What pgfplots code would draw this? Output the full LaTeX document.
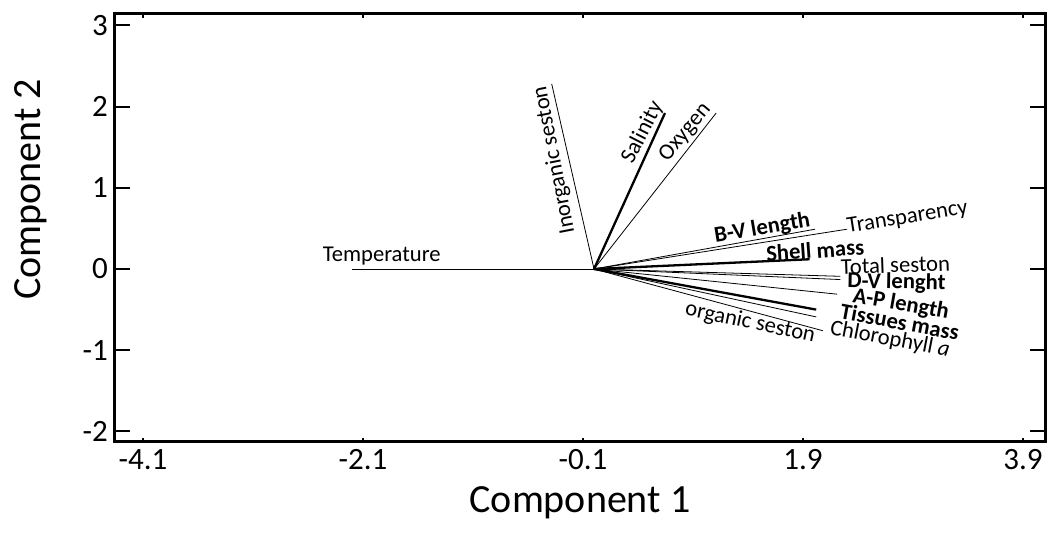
\documentclass[border=0pt]{standalone}
\usepackage{fontspec}
\setmainfont{Carlito}
\usepackage{pgfplots}
\pgfplotsset{compat=1.18}
\begin{document}
\begin{tikzpicture}
\begin{axis}[
  scale only axis, width=465pt, height=214pt,
  xmin=-4.355, xmax=4.10, ymin=-2.13, ymax=3.14,
  clip=false,
  axis line style={line width=1.5pt, black},
  xtick={-4.1,-2.1,-0.1,1.9,3.9},
  xticklabels={-4.1,-2.1,-0.1,1.9,3.9},
  ytick={-2,-1,0,1,2,3},
  yticklabels={-2,-1,0,1,2,3},
  tick align=inside,
  major tick length=7.5pt,
  xtick style={/pgfplots/major tick length=2pt},
  tick style={line width=1pt, black},
  ticklabel style={font=\fontsize{15.5}{18}\selectfont},
  xlabel={Component 1},
  ylabel={Component 2},
  label style={font=\fontsize{20}{24}\selectfont},
  xlabel style={at={(axis description cs:0.5,0)}, anchor=base, yshift=-35.5pt},
  ylabel style={at={(axis description cs:-0.0806,0.59)}, anchor=base},
  cycle list={{black, solid, line width=1.15pt, mark=none}},
  nodes={font=\fontsize{11.3}{13}\selectfont},
]
\coordinate (sw) at (rel axis cs:0,0);
\coordinate (ne) at (rel axis cs:1,1);
% loadings: line from origin to (x,y)
\addplot coordinates {(0,0) (-2.20,0)};      % Temperature
\addplot coordinates {(0,0) (-0.385,2.28)};  % Inorganic seston
\addplot coordinates {(0,0) (0.645,1.92)};   % Salinity
\addplot coordinates {(0,0) (1.11,1.92)};    % Oxygen
\addplot coordinates {(0,0) (2.01,0.49)};    % B-V length
\addplot coordinates {(0,0) (2.30,0.49)};    % Transparency
\addplot coordinates {(0,0) (1.96,0.12)};    % Shell mass
\addplot coordinates {(0,0) (2.24,-0.09)};   % Total seston
\addplot coordinates {(0,0) (2.24,-0.13)};   % D-V lenght
\addplot coordinates {(0,0) (2.21,-0.31)};   % A-P length
\addplot coordinates {(0,0) (2.02,-0.50)};   % Tissues mass
\addplot coordinates {(0,0) (2.02,-0.59)};   % organic seston
\addplot coordinates {(0,0) (2.08,-0.76)};   % Chlorophyll a

\node at (axis cs:-1.93,0.16) {Temperature};
\node[rotate=101] at (axis cs:-0.36,1.34) {Inorganic seston};
\node[rotate=63] at (axis cs:0.44,1.68) {Salinity};
\node[rotate=50] at (axis cs:0.83,1.68) {Oxygen};
\node[rotate=9.5] at (axis cs:1.53,0.50) {\bfseries B-V length};
\node[rotate=9] at (axis cs:2.85,0.63) {Transparency};
\node[rotate=4] at (axis cs:2.01,0.23) {\bfseries Shell mass};
\node[rotate=2] at (axis cs:2.74,0.05) {Total seston};
\node[rotate=-1] at (axis cs:2.75,-0.17) {\bfseries D-V lenght};
\node[rotate=-10] at (axis cs:2.79,-0.44) {\bfseries A-P length};
\node[rotate=-10.5] at (axis cs:2.78,-0.65) {\bfseries Tissues mass};
\node[rotate=-11] at (axis cs:2.69,-0.87) {Chlorophyll \textit{a}};
\node[rotate=-12] at (axis cs:1.42,-0.665) {organic seston};
\end{axis}
\pgfresetboundingbox
\path[use as bounding box] ([xshift=-57.5pt,yshift=-50pt]sw) rectangle ([xshift=2pt,yshift=7pt]ne);
\end{tikzpicture}
\end{document}
